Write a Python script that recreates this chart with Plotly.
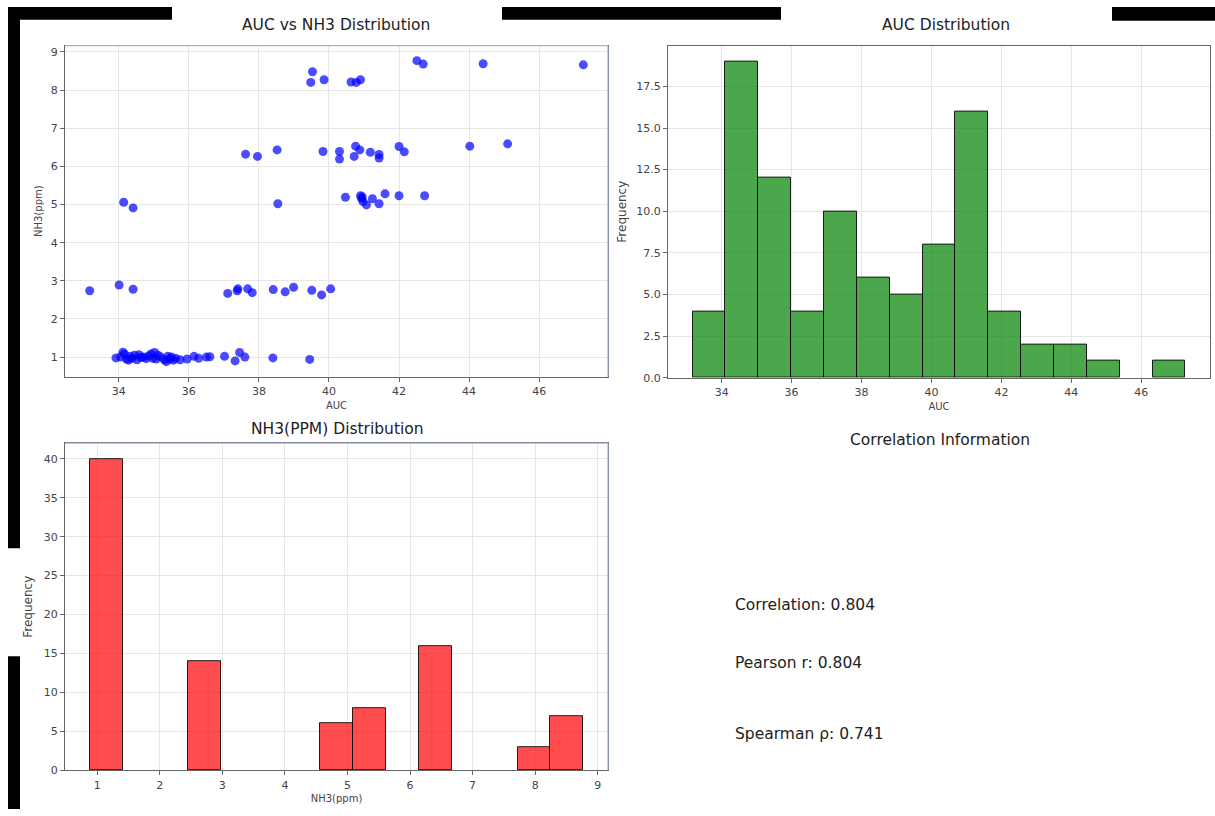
import numpy as np
import plotly.graph_objects as go

# ---- data ----
auc_low = [33.92, 34.05, 34.12, 34.16, 34.22, 34.28, 34.33, 34.38, 34.45, 34.52,
           34.58, 34.63, 34.70, 34.78, 34.85, 34.92, 34.97, 35.02, 35.06, 35.12,
           35.20, 35.30, 35.36, 35.40, 35.45, 35.50, 35.56, 35.62, 35.75, 35.95,
           36.15, 36.28, 36.50, 36.60, 37.02, 37.32, 37.45, 37.60, 38.40, 39.45]
nh3_low = [0.98, 1.00, 1.13, 1.08, 0.95, 0.92, 1.02, 0.97, 1.05, 0.93,
           1.06, 0.99, 1.00, 0.96, 1.03, 1.08, 0.97, 1.12, 0.95, 1.05,
           1.00, 0.93, 0.88, 1.02, 0.95, 1.00, 0.92, 0.97, 0.93, 0.95,
           1.02, 0.97, 1.00, 1.01, 1.02, 0.90, 1.12, 1.00, 0.98, 0.94]
auc_3 = [33.17, 34.01, 34.41, 37.11, 37.38, 37.40, 37.68, 37.81, 38.41, 38.75,
         38.99, 39.51, 39.79, 40.05]
nh3_3 = [2.74, 2.89, 2.78, 2.67, 2.74, 2.79, 2.79, 2.69, 2.77, 2.71,
         2.83, 2.75, 2.63, 2.79]
auc_5 = [34.14, 34.41, 38.54, 40.47, 40.90, 40.93, 40.95, 40.97, 41.07, 41.24,
         41.43, 41.60, 42.00, 42.73]
nh3_5 = [5.06, 4.91, 5.02, 5.19, 5.23, 5.16, 5.20, 5.08, 4.99, 5.15,
         5.02, 5.28, 5.23, 5.23]
auc_6 = [37.62, 37.96, 38.52, 39.83, 40.30, 40.30, 40.76, 40.88, 40.72, 41.18,
         41.43, 41.43, 42.00, 42.15, 44.02, 45.10]
nh3_6 = [6.32, 6.26, 6.43, 6.39, 6.39, 6.19, 6.53, 6.43, 6.26, 6.37,
         6.31, 6.22, 6.52, 6.38, 6.53, 6.59]
auc_8 = [39.53, 39.48, 39.86, 40.63, 40.78, 40.90, 42.51, 42.69, 44.40, 47.26]
nh3_8 = [8.48, 8.20, 8.27, 8.21, 8.20, 8.27, 8.77, 8.68, 8.69, 8.66]

corr_lines = ["Correlation: 0.804", "Pearson r: 0.804", "Spearman ρ: 0.741"]
titles = ["AUC vs NH3 Distribution", "AUC Distribution",
          "NH3(PPM) Distribution", "Correlation Information"]

auc = np.array(auc_low + auc_3 + auc_5 + auc_6 + auc_8)
nh3 = np.array(nh3_low + nh3_3 + nh3_5 + nh3_6 + nh3_8)

W, H = 1215, 816
def px(x): return x / W
def py(y): return 1 - y / H

FONT = "DejaVu Sans"
TICKC = "#444444"

fig = go.Figure()

# scatter
fig.add_trace(go.Scatter(x=auc, y=nh3, mode="markers",
                         marker=dict(color="rgba(0,0,255,0.7)", size=9, line=dict(width=0)),
                         xaxis="x", yaxis="y", showlegend=False))

def hist_bars(vals, color, xa, ya):
    c, e = np.histogram(vals, bins=15)
    keep = c > 0
    centers = ((e[:-1] + e[1:]) / 2)[keep]
    widths = np.diff(e)[keep]
    fig.add_trace(go.Bar(x=centers, y=c[keep], width=widths,
                         marker=dict(color=color, line=dict(color="rgba(0,0,0,0.85)", width=1)),
                         xaxis=xa, yaxis=ya, showlegend=False))
    return c, e

c1, e1 = hist_bars(auc, "rgba(0,128,0,0.7)", "x2", "y2")
c2, e2 = hist_bars(nh3, "rgba(255,0,0,0.7)", "x3", "y3")

def axis(domain, rng, title, tsize, **kw):
    d = dict(domain=domain, range=rng, showline=True, linecolor="#666666", linewidth=1.2,
             mirror=True, ticks="outside", ticklen=4, tickcolor="#666666",
             showgrid=True, gridcolor="#e6e6e6", gridwidth=1, zeroline=False,
             tickfont=dict(family=FONT, size=11, color=TICKC),
             title=dict(text=title, font=dict(family=FONT, size=tsize, color=TICKC)))
    d.update(kw)
    return d

def span(lo, hi):
    m = (hi - lo) * 0.05
    return [lo - m, hi + m]

xd_left = [px(65), px(608)]
xd_right = [px(668), px(1210)]

fig.update_layout(
    width=W, height=H, margin=dict(l=0, r=0, t=0, b=0),
    paper_bgcolor="white", plot_bgcolor="white", bargap=0,
    xaxis=axis(xd_left, span(auc.min(), auc.max()), "AUC", 10, anchor="y",
               tickvals=[34, 36, 38, 40, 42, 44, 46], title_standoff=4),
    yaxis=axis([py(380), py(46)], span(nh3.min(), nh3.max()), "NH3(ppm)", 10, anchor="x",
               tickvals=list(range(1, 10)), title_standoff=6),
    xaxis2=axis(xd_right, span(e1[0], e1[-1]), "AUC", 10, anchor="y2",
                tickvals=[34, 36, 38, 40, 42, 44, 46], title_standoff=4),
    yaxis2=axis([py(381), py(46)], [0, c1.max() * 1.05], "Frequency", 12, anchor="x2",
                dtick=2.5, tick0=0, tickformat=".1f", title_standoff=6),
    xaxis3=axis(xd_left, span(e2[0], e2[-1]), "NH3(ppm)", 10, anchor="y3",
                tickvals=list(range(1, 10)), title_standoff=4),
    yaxis3=axis([py(777), py(447)], [0, c2.max() * 1.05], "Frequency", 12, anchor="x3",
                dtick=5, tick0=0, title_standoff=8),
)

# panel titles
tpos = [(336, 25), (946, 25), (337, 433), (940, 444)]
for t, (x, y) in zip(titles, tpos):
    fig.add_annotation(text=t, x=px(x), y=py(y), xref="paper", yref="paper",
                       showarrow=False, xanchor="center", yanchor="middle",
                       font=dict(family=FONT, size=15.5, color="#222222"))

# correlation text
for t, y in zip(corr_lines, [610, 669, 740]):
    fig.add_annotation(text=t, x=px(733), y=py(y), xref="paper", yref="paper",
                       showarrow=False, xanchor="left", yanchor="middle",
                       font=dict(family=FONT, size=15.5, color="#222222"))

# light blue top/right spines on scatter and NH3 panels
for xr, yr in [("x", "y"), ("x3", "y3")]:
    fig.add_shape(type="line", xref=f"{xr} domain", yref=f"{yr} domain",
                  x0=0, x1=1, y0=1, y1=1, line=dict(color="#9fb0d8", width=1.2))
    fig.add_shape(type="line", xref=f"{xr} domain", yref=f"{yr} domain",
                  x0=1, x1=1, y0=0, y1=1, line=dict(color="#9fb0d8", width=1.2))

# black redaction bars from the reference image
bars = [(8, 7, 172, 20), (8, 7, 20, 553), (8, 662, 20, 816),
        (502, 7, 781, 20), (1112, 7, 1215, 21)]
for x0, y0, x1, y1 in bars:
    fig.add_shape(type="rect", xref="paper", yref="paper",
                  x0=px(x0), x1=px(x1), y0=py(y1), y1=py(y0),
                  fillcolor="black", line=dict(width=0), layer="above")

fig.write_html("out.html", config={"displayModeBar": False})

# remove the browser's default page margin so the figure fills the window exactly
with open("out.html", "r", encoding="utf-8") as f:
    html = f.read()
html = html.replace("<head>", "<head><style>html,body{margin:0;padding:0;overflow:hidden;}</style>", 1)
with open("out.html", "w", encoding="utf-8") as f:
    f.write(html)
